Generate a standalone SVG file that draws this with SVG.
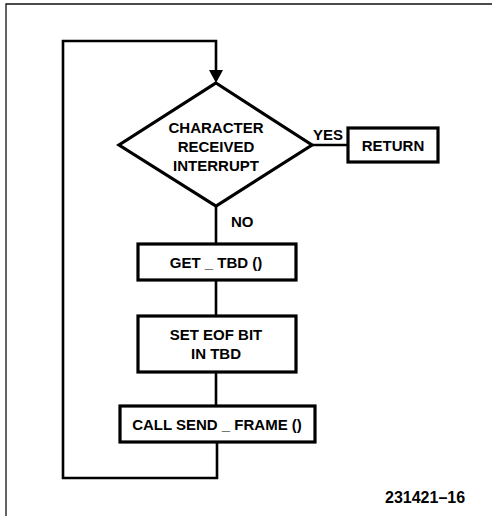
<svg xmlns="http://www.w3.org/2000/svg" width="492" height="516" viewBox="0 0 492 516">
<defs>
<style>
.bg{fill:#ffffff}
.frame{fill:none;stroke:#111;stroke-width:1.3}
.shape{fill:#ffffff;stroke:#000;stroke-width:3.2;stroke-linejoin:miter}
.line{fill:none;stroke:#000;stroke-width:2.6;stroke-linejoin:miter}
.t{font-family:"Liberation Sans",Arial,sans-serif;font-weight:bold;font-size:15px;fill:#000;text-anchor:middle;dominant-baseline:central}
.lbl{font-family:"Liberation Sans",Arial,sans-serif;font-weight:bold;font-size:15px;fill:#000;dominant-baseline:central}
</style>
</defs>
<rect class="bg" x="0" y="0" width="492" height="516"/>
<path class="frame" d="M6,516 L6,4 L492,4"/>
<g id="connectors">
<path class="line" d="M217,442 L217,478 L63,478 L63,41 L216,41 L216,71"/>
<path d="M209,70 L223,70 L216,83 Z" fill="#000"/>
<path class="line" d="M312,145 L348,145"/>
<path class="line" d="M216,206 L216,244"/>
<path class="line" d="M216,280 L216,316"/>
<path class="line" d="M216,372 L216,406"/>
<text class="lbl" x="313" y="134">YES</text>
<text class="lbl" x="231" y="221">NO</text>
</g>
<g id="decision">
<polygon class="shape" points="216,83 312,145 216,206 119,145"/>
<text class="t" x="216" y="127">CHARACTER</text>
<text class="t" x="216" y="146">RECEIVED</text>
<text class="t" x="216" y="165">INTERRUPT</text>
</g>
<g id="return">
<rect class="shape" x="348" y="128" width="90" height="34"/>
<text class="t" x="393" y="145.5">RETURN</text>
</g>
<g id="get_tbd">
<rect class="shape" x="138" y="244" width="158" height="36"/>
<text class="t" x="216" y="262.5">GET _ TBD ()</text>
</g>
<g id="set_eof">
<rect class="shape" x="138" y="316" width="158" height="56"/>
<text class="t" x="216" y="334">SET EOF BIT</text>
<text class="t" x="216" y="353.5">IN TBD</text>
</g>
<g id="send_frame">
<rect class="shape" x="120" y="406" width="195" height="36"/>
<text class="t" x="217" y="424.5">CALL SEND _ FRAME ()</text>
</g>
<text class="lbl" x="385" y="497" style="font-size:16px">231421–16</text>
</svg>
